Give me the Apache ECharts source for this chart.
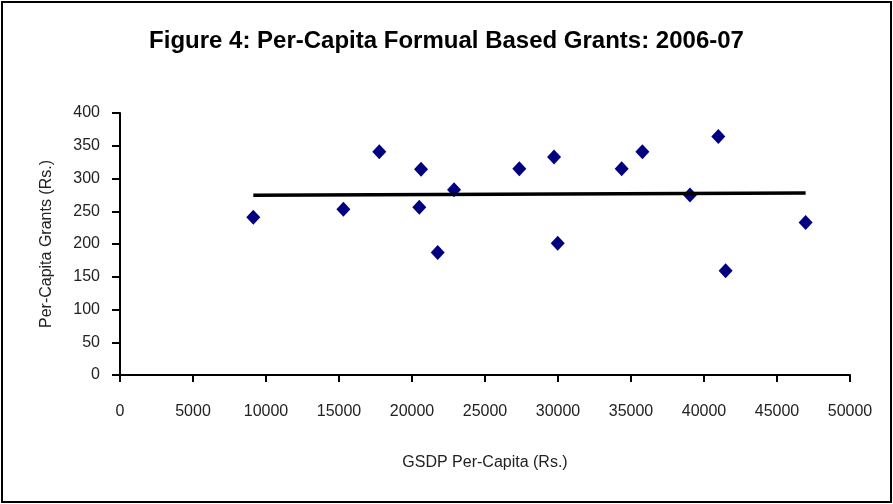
<!DOCTYPE html>
<html>
<head>
<meta charset="utf-8">
<script src="https://cdn.jsdelivr.net/npm/echarts@6/dist/echarts.min.js"></script>
<style>
html, body { margin: 0; padding: 0; background: #fff; }
#chart { width: 893px; height: 504px; }
</style>
</head>
<body>
<div id="chart"></div>
<script>
// GSDP per-capita (Rs.) vs per-capita formula based grants (Rs.)
const gsdp = [9130, 15300, 17760, 20620, 20500, 21760, 22880, 27350, 29730, 29980, 34360, 35780, 39040, 40980, 41480, 46960]
const grants = [241, 253, 341, 314, 256, 187, 283, 315, 333, 201, 315, 341, 275, 364, 159, 233]
// linear trend line end points
const trendX = [9130, 46960]
const trendY = [274.5, 278]

const font = '"Liberation Sans Narrow", "Arial Narrow", "Liberation Sans", sans-serif'
const chart = echarts.init(document.getElementById('chart'))
const option = {
    backgroundColor: '#fff',
    animation: false,
    title: {
        text: 'Figure 4: Per-Capita Formual Based Grants: 2006-07',
        left: 'center', top: 24,
        textStyle: { fontFamily: font, fontWeight: 'bold', fontSize: 24, color: '#000' }
    },
    graphic: [{
        type: 'rect', shape: { x: 2, y: 2, width: 889, height: 500 },
        style: { fill: 'none', stroke: '#000', lineWidth: 2 }, silent: true
    }],
    grid: { left: 120, right: 43, top: 113, bottom: 129 },
    xAxis: {
        type: 'value', min: 0, max: 50000, interval: 5000,
        name: 'GSDP Per-Capita (Rs.)', nameLocation: 'middle', nameGap: 80,
        nameTextStyle: { fontFamily: font, fontSize: 16, color: '#222' },
        splitLine: { show: false },
        axisLine: { lineStyle: { color: '#000', width: 2 } },
        axisTick: { show: true, length: 7, lineStyle: { color: '#000', width: 2 } },
        axisLabel: { margin: 29, fontFamily: font, fontSize: 16, color: '#222', formatter: v => String(v) }
    },
    yAxis: {
        type: 'value', min: 0, max: 400, interval: 50,
        name: 'Per-Capita Grants (Rs.)', nameLocation: 'middle', nameGap: 65,
        nameTextStyle: { fontFamily: font, fontSize: 16, color: '#222' },
        splitLine: { show: false },
        axisLine: { show: true, lineStyle: { color: '#000', width: 2 } },
        axisTick: { show: true, length: 8, lineStyle: { color: '#000', width: 2 } },
        axisLabel: { margin: 20, fontFamily: font, fontSize: 16, color: '#222' }
    },
    series: [{
        type: 'scatter',
        data: gsdp.map((x, i) => [x, grants[i]]),
        symbol: 'diamond', symbolSize: [14, 15],
        itemStyle: { color: '#000080', opacity: 1 }
    }, {
        type: 'line',
        data: trendX.map((x, i) => [x, trendY[i]]),
        symbol: 'none',
        lineStyle: { color: '#000', width: 3.5 },
        z: 3
    }]
}
chart.setOption(option)
</script>
</body>
</html>
